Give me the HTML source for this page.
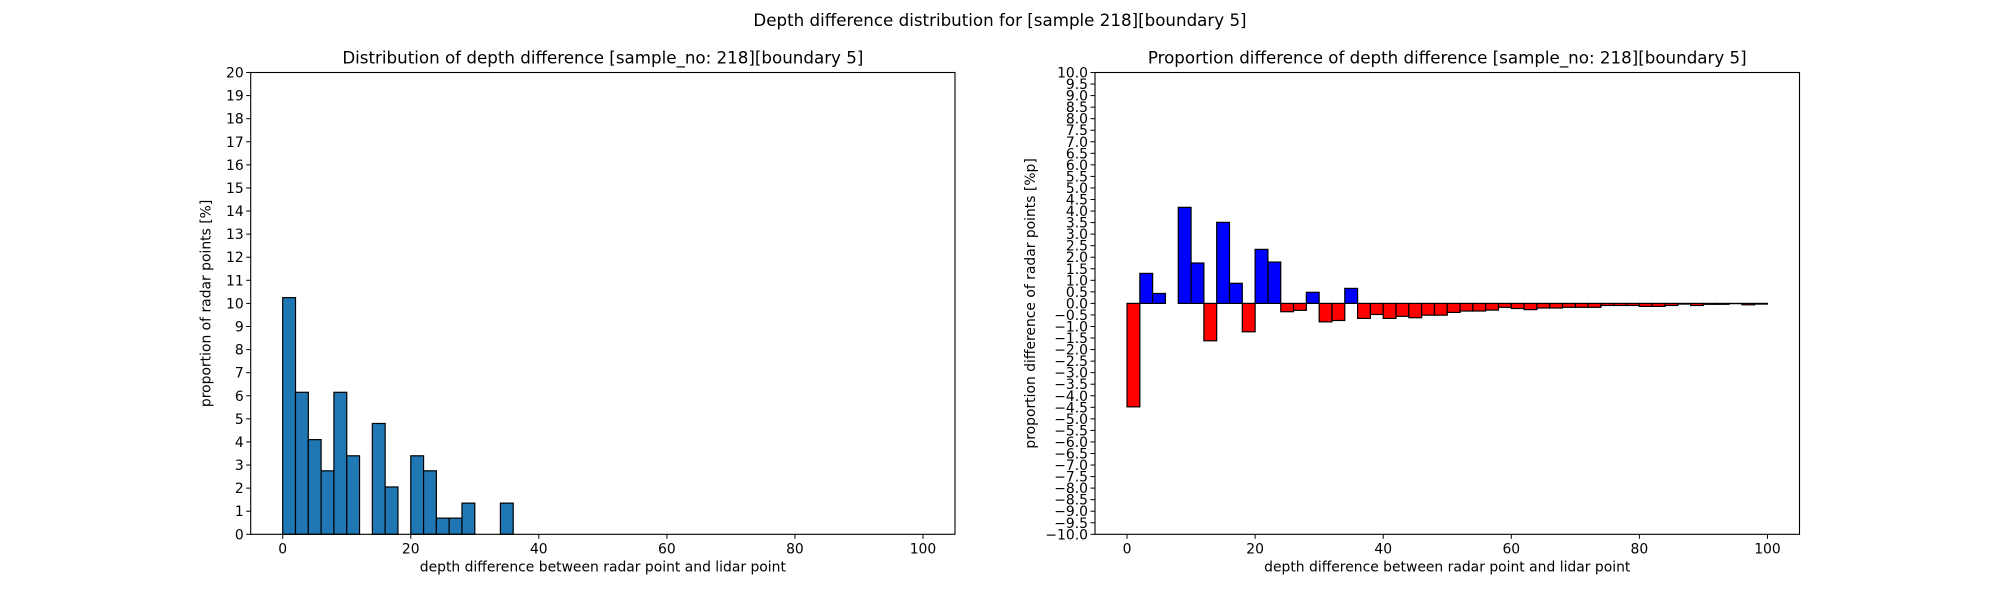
<!DOCTYPE html>
<html><head><meta charset="utf-8"><style>
body{margin:0;background:#fff;}
svg text{font-family:"DejaVu Sans","Liberation Sans",sans-serif;fill:#000;}
</style></head><body>
<svg id="fig" width="2000" height="600" viewBox="0 0 2000 600" xmlns="http://www.w3.org/2000/svg">
<rect width="2000" height="600" fill="#fff"/>
<text x="1000" y="26" font-size="16.7" text-anchor="middle">Depth difference distribution for [sample 218][boundary 5]</text>
<g id="left"></g>
<g id="right"></g>
</svg>
<script>
const leftValues=[10.25,6.15,4.1,2.75,6.15,3.4,0,4.8,2.05,0,3.4,2.75,0.7,0.7,1.35,0,0,1.35];
const rightValues=[-4.48,1.3,0.43,0,4.16,1.75,-1.62,3.51,0.87,-1.23,2.34,1.79,-0.36,-0.3,0.48,-0.8,-0.74,0.65,-0.65,-0.48,-0.65,-0.56,-0.62,-0.51,-0.51,-0.39,-0.33,-0.33,-0.29,-0.17,-0.22,-0.27,-0.2,-0.2,-0.17,-0.17,-0.17,-0.09,-0.09,-0.09,-0.13,-0.13,-0.09,-0.03,-0.09,-0.04,-0.04,-0.01,-0.06,-0.03];
const xTicks=[0,20,40,60,80,100];
const leftYTicks=[0,1,2,3,4,5,6,7,8,9,10,11,12,13,14,15,16,17,18,19,20];
const binWidth=2;
const NS="http://www.w3.org/2000/svg";
function mk(p,tag,attrs){const e=document.createElementNS(NS,tag);for(const k in attrs)e.setAttribute(k,attrs[k]);p.appendChild(e);return e;}
function chart(g,L,R,T,B,ymin,ymax,yticks,yfmt,title,ylabel,values,colorFn,fill0){
  const xs=v=>L+(v+5)/110*(R-L);
  const ys=v=>B-(v-ymin)/(ymax-ymin)*(B-T);
  const t=mk(g,'text',{x:(L+R)/2,y:T-9,'font-size':16.7,'text-anchor':'middle'});t.textContent=title;
  
  
  values.forEach((v,i)=>{
    if(v===0&&!fill0)return;
    const x0=xs(i*binWidth),x1=xs((i+1)*binWidth);
    const y0=ys(Math.max(v,0)),y1=ys(Math.min(v,0));
    const r=mk(g,'rect',{x:x0,y:y0,width:x1-x0,height:y1-y0,fill:colorFn(v),stroke:'#000','stroke-width':1.2});
    
    
  });
  const f=mk(g,'rect',{x:L,y:T,width:R-L,height:B-T,fill:'none',stroke:'#000','stroke-width':1.1});
  
  
  xTicks.forEach(v=>{
    mk(g,'line',{x1:xs(v),x2:xs(v),y1:B,y2:B+4.5,stroke:'#000','stroke-width':1});
    const tx=mk(g,'text',{x:xs(v),y:B+19,'font-size':13.9,'text-anchor':'middle'});tx.textContent=v;
    
    
  });
  yticks.forEach(v=>{
    mk(g,'line',{x1:L-4.5,x2:L,y1:ys(v),y2:ys(v),stroke:'#000','stroke-width':1});
    const ty=mk(g,'text',{x:L-7,y:ys(v)+5,'font-size':13.9,'text-anchor':'end'});ty.textContent=yfmt(v);
    
    
  });
  const xl=mk(g,'text',{x:(L+R)/2,y:B+37,'font-size':13.9,'text-anchor':'middle'});xl.textContent='depth difference between radar point and lidar point';
  
  
  const lx=L-(yfmt===String?40:60);
  const yl=mk(g,'text',{x:lx,y:(T+B)/2,'font-size':13.9,'text-anchor':'middle',transform:`rotate(-90 ${lx} ${(T+B)/2})`});yl.textContent=ylabel;
  
  
}
const rightYTicks=[];for(let i=-20;i<=20;i++)rightYTicks.push(i/2);
chart(document.getElementById('left'),250.7,955,72.5,534.3,0,20,leftYTicks,String,
 'Distribution of depth difference [sample_no: 218][boundary 5]','proportion of radar points [%]',leftValues,()=>'#1f77b4',false);
chart(document.getElementById('right'),1095,1799.5,72.5,534.3,-10,10,rightYTicks,v=>(v<0?'\u2212':'')+Math.abs(v).toFixed(1),
 'Proportion difference of depth difference [sample_no: 218][boundary 5]','proportion difference of radar points [%p]',rightValues,v=>v>=0?'#0000ff':'#ff0000',true);
</script>
</body></html>
